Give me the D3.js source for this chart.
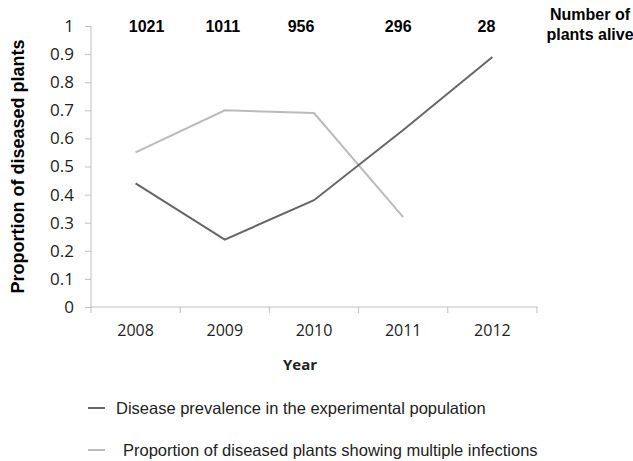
<!DOCTYPE html>
<html>
<head>
<meta charset="utf-8">
<script src="https://cdn.jsdelivr.net/npm/d3@7"></script>
<style>
  body { margin: 0; background: #fff; }
  svg { display: block; }
</style>
</head>
<body>
<div id="chart"></div>
<script>
// chart data
var years = ["2008", "2009", "2010", "2011", "2012"];
var plantsAlive = [1021, 1011, 956, 296, 28];
var prevalence = [0.44, 0.24, 0.38, 0.63, 0.89];
var multiInfection = [0.55, 0.70, 0.69, 0.32, null];
var yTicks = [0, 0.1, 0.2, 0.3, 0.4, 0.5, 0.6, 0.7, 0.8, 0.9, 1];
var seriesNames = ["Disease prevalence in the experimental population",
                   "Proportion of diseased plants showing multiple infections"];

var attrs = {
    width: 633,
    height: 461,
    left: 91,
    right: 537,
    top: 26,
    bottom: 307,
    axisColor: "#bfbfbf",
    darkColor: "#666666",
    lightColor: "#bbbbbb",
    lineWidth: 2,
    // the counts above the plot sit a little off the category centres
    aliveNudge: [11, -2, -13, -5, -6]
};

var svg = d3.select("#chart").append("svg")
    .attr("width", attrs.width)
    .attr("height", attrs.height);

var x = d3.scaleBand().domain(years).range([attrs.left, attrs.right]);
var y = d3.scaleLinear().domain([0, 1]).range([attrs.bottom, attrs.top]);
var cx = function(yr){ return x(yr) + x.bandwidth() / 2; };

// y axis
var yAxis = svg.append("g")
    .attr("transform", "translate(" + attrs.left + ",0)")
    .call(d3.axisLeft(y).tickValues(yTicks).tickSize(6).tickPadding(11)
        .tickFormat(function(d){ return d3.format("~g")(d); }));
yAxis.selectAll("path, line").attr("stroke", attrs.axisColor);
yAxis.select(".domain").attr("d", "M0," + y(1) + "V" + y(0));
yAxis.selectAll("text")
    .style("font-family", "'Open Sans', sans-serif")
    .style("font-size", "17px")
    .attr("fill", "#222");

// x axis: line with ticks at category boundaries
var xAxis = svg.append("g")
    .attr("transform", "translate(0," + attrs.bottom + ")")
    .call(d3.axisBottom(x).tickSize(0).tickPadding(18));
xAxis.select(".domain").attr("stroke", attrs.axisColor)
    .attr("d", "M" + attrs.left + ",0H" + attrs.right);
xAxis.selectAll("text")
    .style("font-family", "'Open Sans', sans-serif")
    .style("font-size", "16px")
    .attr("fill", "#222");
var bounds = years.map(function(yr){ return x(yr); }).concat([attrs.right]);
xAxis.selectAll(".bound").data(bounds).enter().append("line")
    .attr("class", "bound")
    .attr("x1", function(d){ return d; })
    .attr("x2", function(d){ return d; })
    .attr("y1", 0).attr("y2", 6)
    .attr("stroke", attrs.axisColor);

// axis titles
svg.append("text")
    .attr("transform", "translate(24," + ((attrs.top + attrs.bottom) / 2) + ") rotate(-90)")
    .attr("text-anchor", "middle")
    .style("font-family", "'Liberation Sans', Arial, sans-serif")
    .style("font-size", "18px")
    .style("font-weight", "bold")
    .text("Proportion of diseased plants");

svg.append("text")
    .attr("x", 300).attr("y", 370)
    .attr("text-anchor", "middle")
    .style("font-family", "'Open Sans', sans-serif")
    .style("font-size", "15px")
    .style("font-weight", "bold")
    .attr("fill", "#222")
    .text("Year");

// numbers of plants alive
svg.selectAll(".alive").data(years).enter().append("text")
    .attr("class", "alive")
    .attr("x", function(d, i){ return cx(d) + attrs.aliveNudge[i]; })
    .attr("y", 32)
    .attr("text-anchor", "middle")
    .style("font-family", "'Liberation Sans', Arial, sans-serif")
    .style("font-size", "16px")
    .style("font-weight", "bold")
    .text(function(d, i){ return plantsAlive[i]; });

var note = svg.append("text")
    .attr("text-anchor", "middle")
    .style("font-family", "'Liberation Sans', Arial, sans-serif")
    .style("font-size", "16px")
    .style("font-weight", "bold");
note.append("tspan").attr("x", 590).attr("y", 20).text("Number of");
note.append("tspan").attr("x", 590).attr("y", 40).text("plants alive");

// lines
var line = d3.line()
    .defined(function(d){ return d[1] != null; })
    .x(function(d){ return cx(d[0]); })
    .y(function(d){ return y(d[1]); });

svg.append("path")
    .datum(years.map(function(yr, i){ return [yr, multiInfection[i]]; }))
    .attr("fill", "none")
    .attr("stroke", attrs.lightColor)
    .attr("stroke-width", attrs.lineWidth)
    .attr("d", line);

svg.append("path")
    .datum(years.map(function(yr, i){ return [yr, prevalence[i]]; }))
    .attr("fill", "none")
    .attr("stroke", attrs.darkColor)
    .attr("stroke-width", attrs.lineWidth)
    .attr("d", line);

// legend
var legendColors = [attrs.darkColor, attrs.lightColor];
var legendY = [408, 450];
var legendTextX = [116, 123];
var legend = svg.selectAll(".legend").data(seriesNames).enter().append("g")
    .attr("class", "legend");
legend.append("line")
    .attr("x1", 88).attr("x2", 105)
    .attr("y1", function(d, i){ return legendY[i]; })
    .attr("y2", function(d, i){ return legendY[i]; })
    .attr("stroke", function(d, i){ return legendColors[i]; })
    .attr("stroke-width", 2);
legend.append("text")
    .attr("x", function(d, i){ return legendTextX[i]; })
    .attr("y", function(d, i){ return legendY[i] + 6; })
    .style("font-family", "'Liberation Sans', Arial, sans-serif")
    .style("font-size", "16.5px")
    .attr("fill", "#222")
    .text(function(d){ return d; });
</script>
</body>
</html>
